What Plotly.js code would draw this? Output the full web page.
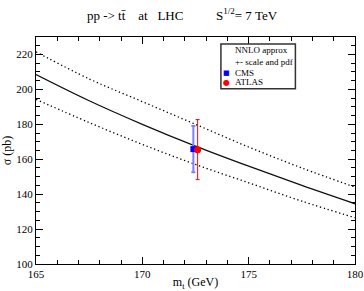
<!DOCTYPE html>
<html><head><meta charset="utf-8">
<script src="https://cdn.plot.ly/plotly-3.0.1.min.js"></script>
<style>html,body{margin:0;padding:0;background:#fff}#c{width:364px;height:291px}</style>
</head><body><div id="c"></div>
<script>
const mt = [165, 167.5, 170, 172.5, 175, 177.5, 180];
const central = [208.5, 193.5, 180, 167.5, 156, 145, 134.5];
const upper = [221.5, 206, 193, 180, 167, 155, 144];
const lower = [194.3, 181, 168.5, 157, 146.5, 136, 126.5];
const cmsX = [172.4], cmsY = [165.8], cmsErr = [13.3];
const atlasX = [172.6], atlasY = [165.5], atlasErr = [17.2];
const legendLabels = ["NNLO approx", "+- scale and pdf", "CMS", "ATLAS"];

const F = "Liberation Serif, Times New Roman, serif";
const traces = [
  {x: mt, y: upper, mode: 'lines', line: {color: '#000', width: 1.3, dash: '1.3px,2.7px', shape: 'spline'}, showlegend: false, hoverinfo: 'skip'},
  {x: mt, y: lower, mode: 'lines', line: {color: '#000', width: 1.3, dash: '1.3px,2.7px', shape: 'spline'}, showlegend: false, hoverinfo: 'skip'},
  {x: mt, y: central, mode: 'lines', line: {color: '#111', width: 1.3, shape: 'spline'}, showlegend: false},
  {x: cmsX, y: cmsY, mode: 'markers', marker: {symbol: 'square', size: 6, color: '#0000ff'},
   error_y: {type: 'data', array: cmsErr, color: '#8080ff', thickness: 2, width: 2}, showlegend: false},
  {x: atlasX, y: atlasY, mode: 'markers', marker: {symbol: 'circle', size: 7, color: '#ff0000'},
   error_y: {type: 'data', array: atlasErr, color: '#ff0000', thickness: 1, width: 2}, showlegend: false}
];
const ax = {
  showgrid: false, zeroline: false, showline: true, linecolor: '#000', linewidth: 1, mirror: 'ticks',
  ticks: 'inside', ticklen: 7, tickwidth: 1, tickcolor: '#000',
  tickfont: {family: F, size: 11, color: '#000'}
};
const ys = [50, 61.7, 72.7, 82.3].map(p => (264.3 - p) / 227.3);
const tx = (233 - 35.5) / 319.5, sx = (226 - 35.5) / 319.5;
const ann = [];
legendLabels.forEach((t, i) => ann.push({xref: 'paper', yref: 'paper', x: tx, y: ys[i], xanchor: 'left', yanchor: 'middle',
  text: t, showarrow: false, font: {family: F, size: 9, color: '#000'}}));
ann.push({xref: 'paper', yref: 'paper', x: sx, y: ys[2], xanchor: 'center', yanchor: 'middle', text: '■', showarrow: false, font: {family: 'DejaVu Sans', size: 7, color: '#0000ff'}});
ann.push({xref: 'paper', yref: 'paper', x: sx, y: ys[3], xanchor: 'center', yanchor: 'middle', text: '●', showarrow: false, font: {family: 'DejaVu Sans', size: 8, color: '#ff0000'}});
const layout = {
  width: 364, height: 291,
  margin: {l: 35.5, r: 9, t: 37, b: 26.7},
  paper_bgcolor: '#fff', plot_bgcolor: '#fff',
  title: {text: 'pp -> tt\u0304    at   LHC          S<sup>1/2</sup>= 7 TeV', font: {family: F, size: 13, color: '#000'},
          x: 0.5, xanchor: 'center', y: 1 - 15 / 291, yanchor: 'middle', xref: 'container', yref: 'container'},
  xaxis: Object.assign({}, ax, {range: [165, 180], dtick: 5, tick0: 165,
    minor: {dtick: 1, ticklen: 4, ticks: 'inside', tickcolor: '#000'},
    title: {text: 'm<sub>t</sub> (GeV)', font: {family: F, size: 12, color: '#000'}, standoff: 2}}),
  yaxis: Object.assign({}, ax, {range: [100, 230], dtick: 20, tick0: 100,
    minor: {dtick: 5, ticklen: 4, ticks: 'inside', tickcolor: '#000'},
    title: {text: 'σ (pb)', font: {family: F, size: 12, color: '#000'}, standoff: 4}}),
  shapes: [{type: 'rect', xref: 'paper', yref: 'paper', x0: (220.7 - 35.5) / 319.5, x1: (295.3 - 35.5) / 319.5,
    y0: (264.3 - 88.7) / 227.3, y1: (264.3 - 44) / 227.3, line: {color: '#333', width: 1.5}, fillcolor: '#fff'}],
  annotations: ann,
  showlegend: false
};
Plotly.newPlot('c', traces, layout, {staticPlot: true, displayModeBar: false});
</script></body></html>
